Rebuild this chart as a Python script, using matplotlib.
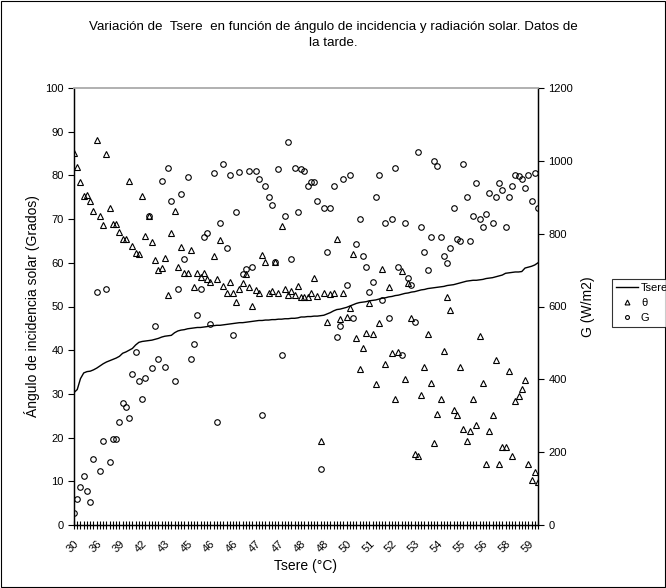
import numpy as np
import matplotlib
matplotlib.use("Agg")
import matplotlib.pyplot as plt
from matplotlib.ticker import FixedLocator
from matplotlib.patches import Rectangle

plt.rcParams['font.family'] = ['Liberation Sans', 'DejaVu Sans']

# ---- data ----
tsere = [30.3, 31.0, 33.5, 34.8, 35.1, 35.2, 35.5, 35.9, 36.4, 36.9,
         37.3, 37.6, 37.9, 38.2, 38.6, 39.3, 39.6, 40.0, 40.4, 41.2,
         41.8, 42.0, 42.1, 42.2, 42.3, 42.5, 42.7, 43.0, 43.2, 43.3,
         43.4, 44.0, 44.4, 44.6, 44.7, 44.9, 45.0, 45.1, 45.2, 45.2,
         45.3, 45.4, 45.6, 45.6, 45.7, 45.7, 45.8, 45.9, 46.0, 46.1,
         46.2, 46.3, 46.3, 46.4, 46.5, 46.6, 46.7, 46.8, 46.8, 46.9,
         46.9, 47.0, 47.0, 47.1, 47.1, 47.2, 47.2, 47.3, 47.3, 47.4,
         47.6, 47.6, 47.7, 47.7, 47.8, 47.8, 47.9, 48.0, 48.3, 48.6,
         49.0, 49.3, 49.4, 49.6, 49.8, 50.1, 50.4, 50.7, 50.9, 51.0,
         51.1, 51.3, 51.4, 51.5, 51.7, 51.9, 52.0, 52.2, 52.3, 52.5,
         52.6, 52.8, 53.0, 53.1, 53.3, 53.4, 53.6, 53.8, 53.9, 54.1,
         54.2, 54.3, 54.4, 54.5, 54.6, 54.8, 54.9, 55.0, 55.2, 55.4,
         55.6, 55.8, 55.9, 56.0, 56.0, 56.1, 56.2, 56.4, 56.5, 56.6,
         56.8, 57.0, 57.2, 57.6, 57.7, 57.8, 57.9, 57.9, 58.0, 58.8,
         59.0, 59.2, 59.5, 60.0]

theta = [85.1, 81.9, 78.6, 75.3, 75.5, 74.2, 71.9, 88.1, 70.8, 68.6,
         84.9, 72.5, 68.9, 68.8, 67.1, 65.4, 65.4, 78.8, 63.9, 62.2,
         62.0, 75.3, 66.1, 70.7, 64.7, 60.6, 58.4, 58.7, 61.2, 52.6,
         66.9, 71.9, 59.1, 63.7, 57.6, 57.6, 62.9, 54.5, 57.6, 56.8,
         57.7, 56.3, 55.6, 61.6, 56.3, 65.2, 54.8, 53.2, 55.5, 53.2,
         51.1, 54.0, 55.3, 57.5,
         54.5, 50.1, 53.8, 53.2, 61.8, 60.1, 53.2, 53.5, 60.1, 53.2,
         68.5, 53.9, 52.6, 53.5, 52.6, 54.8, 52.1, 52.1, 52.2, 53.2,
         56.6, 52.4, 19.2, 53.2, 46.5, 52.9, 53.2, 65.4, 47.2, 53.2,
         47.6, 49.7, 61.9, 42.9, 35.7, 40.4, 44.0, 50.9, 43.6, 32.2,
         46.3, 58.5, 36.8, 54.5, 39.4, 28.8, 39.7, 58.2, 33.4, 55.4,
         47.4, 16.2, 15.9, 29.8, 36.2, 43.6, 32.4, 18.8, 25.4, 28.8,
         39.9, 52.2, 49.3, 26.3, 25.2, 36.1, 22.0, 19.2, 21.4, 28.8,
         22.9, 43.3, 32.6, 14.0, 21.4, 25.2, 37.8, 14.0, 17.8, 17.8,
         35.3, 15.9, 28.4, 29.5, 31.1, 33.2, 14.0, 10.3, 12.2, 9.9]

g = [32, 72, 103, 134, 93, 63, 182, 639, 148, 230,
     648, 174, 235, 235, 283, 334, 324, 294, 415, 476,
     395, 345, 404, 848, 430, 547, 455, 945, 435, 981,
     890, 395, 648, 910, 730, 956, 456, 497, 577, 648,
     791, 801, 552, 966, 283, 828, 991, 760, 961, 522,
     859, 969, 689, 703, 971, 709, 971, 950,
     302, 931, 900, 879, 722, 977, 467, 849, 1053, 730,
     981, 859, 977, 972, 931, 941, 941, 890, 154, 870,
     750, 870, 931, 517, 547, 950, 659, 961, 568, 771,
     839, 740, 709, 639, 668, 900, 961, 618, 828, 568,
     839, 981, 709, 467, 828, 679, 659, 558, 1023, 819,
     750, 700, 792, 1000, 987, 792, 740, 720, 760, 870,
     785, 781, 991, 900, 781, 849, 940, 839, 819, 854,
     911, 828, 900, 940, 920, 819, 900, 931, 961, 959,
     950, 925, 961, 890, 966, 870]

label_step = 7
title = "Variación de  Tsere  en función de ángulo de incidencia y radiación solar. Datos de\nla tarde."

# ---- figure ----
fig = plt.figure(figsize=(6.66, 5.88), dpi=100)
fig.patches.append(Rectangle((0.0015, 0.0015), 0.997, 0.997, transform=fig.transFigure,
                             fill=False, edgecolor='black', linewidth=0.8))
ax = fig.add_axes([74/666, 1-525/588, (538-74)/666, (525-88)/588])
ax2 = ax.twinx()

n = len(tsere)
x = np.arange(n)

l1, = ax.plot(x, tsere, color='black', lw=1.0, label='Tsere')
l2, = ax.plot(x, theta, ls='none', marker='^', ms=5, mfc='none', mec='black', mew=0.8, label='θ')
l3, = ax2.plot(x, g, ls='none', marker='o', ms=4, mfc='none', mec='black', mew=0.8, label='G')

ax.set_xlim(0, n - 1)
ax.set_ylim(0, 100)
ax2.set_ylim(0, 1200)
ax.set_yticks(np.arange(0, 101, 10))
ax2.set_yticks(np.arange(0, 1201, 200))

major = list(range(0, n, label_step))
ax.xaxis.set_major_locator(FixedLocator(major))
ax.xaxis.set_minor_locator(FixedLocator(list(x)))
ax.set_xticklabels([f"{tsere[i]:.0f}" for i in major], rotation=45, ha='right', va='top',
                   rotation_mode='anchor', fontsize=8)
ax.tick_params(axis='x', which='both', direction='inout', length=6, width=0.8, pad=7)
ax.tick_params(axis='y', direction='out', length=4, width=0.8, labelsize=8)
ax2.tick_params(axis='y', direction='out', length=4, width=0.8, labelsize=8)

for a in (ax, ax2):
    a.spines['top'].set_color('#b0b0b0')
    a.spines['top'].set_linewidth(1.2)
    a.spines['left'].set_linewidth(0.9)
    a.spines['right'].set_linewidth(0.9)
    a.spines['bottom'].set_linewidth(0.9)

ax.set_xlabel('Tsere (°C)', fontsize=10, labelpad=3)
ax.set_ylabel('Ángulo de incidencia solar (Grados)', fontsize=10, labelpad=4)
ax2.set_ylabel('G (W/m2)', fontsize=10, labelpad=6)

fig.text(0.5, 1 - 21/588, title, ha='center', va='top', fontsize=9.6, linespacing=1.45)

leg = fig.legend(handles=[l1, l2, l3], loc='upper left', bbox_to_anchor=(612/666, 1 - 279/588),
                 fontsize=8, frameon=True, fancybox=False, edgecolor='black',
                 handlelength=2.0, borderpad=0.35, labelspacing=0.45, handletextpad=0.25,
                 borderaxespad=0, markerscale=0.7)
leg.get_frame().set_linewidth(0.8)

fig.savefig('out.png', dpi=100)
